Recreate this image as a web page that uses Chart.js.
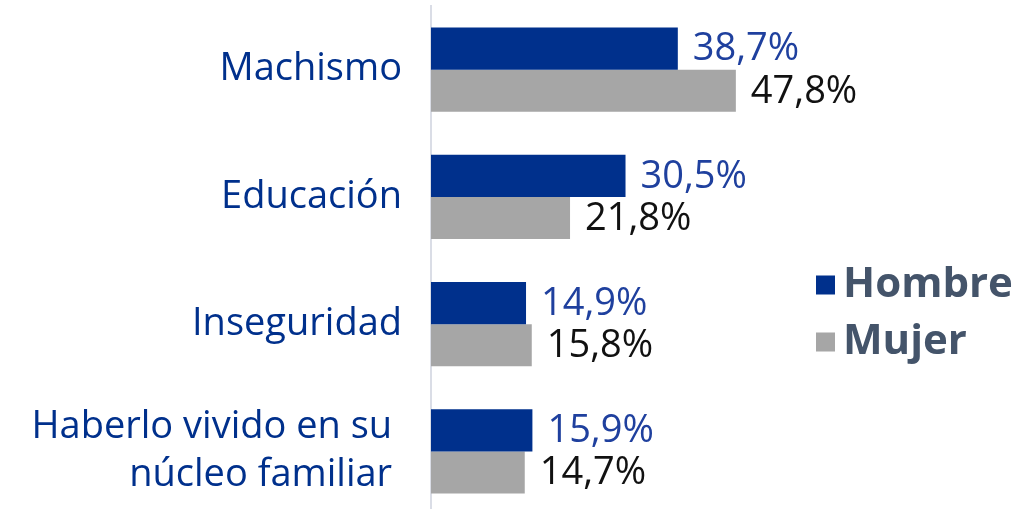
<!DOCTYPE html>
<html>
<head>
<meta charset="utf-8">
<script src="https://cdn.jsdelivr.net/npm/chart.js@4/dist/chart.umd.min.js"></script>
<style>
  html, body { margin: 0; padding: 0; background: #fff; overflow: hidden; }
  #wrap { width: 1020px; height: 515px; position: relative; }
</style>
</head>
<body>
<div id="wrap"><canvas id="mycanvas"></canvas></div>
<script>
var categories = ["Machismo", "Educación", "Inseguridad", ["Haberlo vivido en su ", "núcleo familiar "]];
var hombre = [38.7, 30.5, 14.9, 15.9];
var mujer = [47.8, 21.8, 15.8, 14.7];
var seriesNames = ["Hombre", "Mujer"];

var FONT = "'Open Sans', sans-serif";

// etiquetas de valor al final de cada barra
var valueLabels = {
	id: 'valueLabels',
	afterDatasetsDraw: function(chart) {
		var ctx = chart.ctx;
		ctx.save();
		ctx.font = "38px " + FONT;
		ctx.textAlign = "left";
		ctx.textBaseline = "middle";
		chart.data.datasets.forEach(function(ds, i) {
			var meta = chart.getDatasetMeta(i);
			ctx.fillStyle = ds.labelColor;
			meta.data.forEach(function(bar, j) {
				var txt = ds.data[j].toFixed(1).replace(".", ",") + "%";
				ctx.fillText(txt, bar.x + 15, bar.y + 1);
			});
		});
		ctx.restore();
	}
};

// leyenda a la derecha
var sideLegend = {
	id: 'sideLegend',
	afterDraw: function(chart) {
		var ctx = chart.ctx;
		ctx.save();
		ctx.font = "bold 42px " + FONT;
		ctx.textBaseline = "middle";
		ctx.textAlign = "left";
		chart.data.datasets.forEach(function(ds, i) {
			var y = 285 + i * 57;
			ctx.fillStyle = ds.backgroundColor;
			ctx.fillRect(816, y - 9.5, 19, 19);
			ctx.fillStyle = "#44546a";
			ctx.fillText(ds.label, 843, y);
		});
		ctx.restore();
	}
};

var chartdata = {
	labels: categories,
	datasets: [
		{
			label: seriesNames[0],
			backgroundColor: '#00308c',
			labelColor: '#1f409e',
			data: hombre
		},
		{
			label: seriesNames[1],
			backgroundColor: '#a6a6a6',
			labelColor: '#111111',
			data: mujer
		}
	]
};

var ctx = document.getElementById("mycanvas");

var Graph = new Chart(ctx, {
	type: 'bar',
	data: chartdata,
	plugins: [valueLabels, sideLegend],
	options: {
		indexAxis: 'y',
		responsive: true,
		maintainAspectRatio: false,
		animation: false,
		layout: { padding: { top: 6, right: 15, bottom: 0, left: 0 } },
		datasets: {
			bar: { categoryPercentage: 0.663, barPercentage: 1.0 }
		},
		plugins: {
			legend: { display: false },
			tooltip: { enabled: false }
		},
		scales: {
			x: {
				display: false,
				min: 0,
				max: 90
			},
			y: {
				afterFit: function(scale) {
					scale.width = 431;
					scale.paddingTop = 0;
					scale.paddingBottom = 0;
				},
				grid: { display: false },
				border: { display: true, color: '#dadde6', width: 2 },
				ticks: {
					color: '#00308c',
					padding: 21,
					font: { family: FONT, size: 38, lineHeight: 1.27 }
				}
			}
		}
	}
});
</script>
</body>
</html>
